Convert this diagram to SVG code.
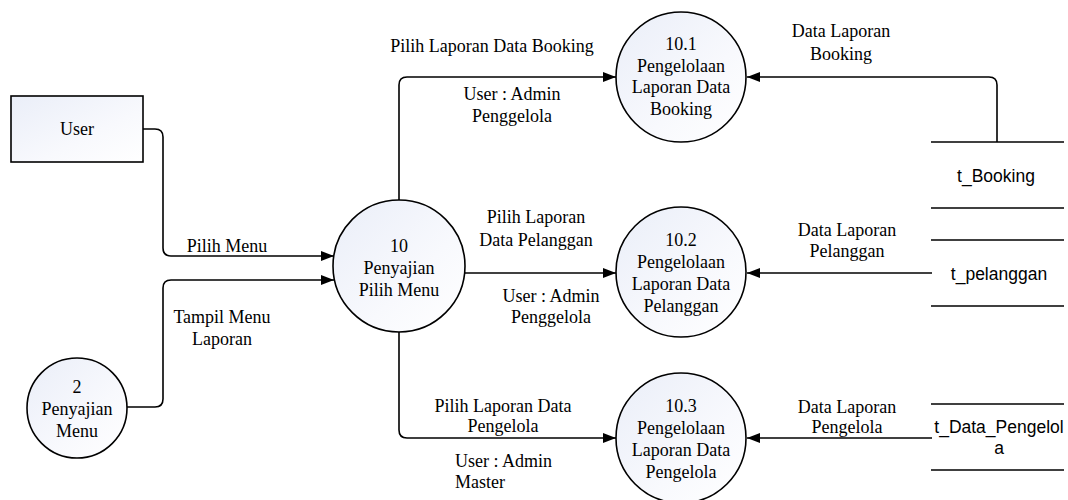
<svg xmlns="http://www.w3.org/2000/svg" width="1068" height="500" viewBox="0 0 1068 500">
<style>
.n{stroke:#000;stroke-width:1.6;fill:url(#g)}
.t{font-family:"Liberation Serif","Times New Roman",serif;font-size:18px;fill:#000;text-anchor:middle}
.s{font-family:"Liberation Sans",Arial,sans-serif;font-size:17.5px;fill:#000;text-anchor:middle}
.c{fill:none;stroke:#000;stroke-width:1.6}
.ds{stroke:#000;stroke-width:1.6}
</style>
<defs>
<linearGradient id="g" x1="0" y1="0" x2="1" y2="1">
<stop offset="0" stop-color="#eaeef8"/>
<stop offset="0.6" stop-color="#f8f9fd"/>
<stop offset="1" stop-color="#ffffff"/>
</linearGradient>
<marker id="a" markerUnits="userSpaceOnUse" markerWidth="13" markerHeight="10" refX="13" refY="5" orient="auto">
<path d="M0,0 L13,5 L0,10 z" fill="#000"/>
</marker>
</defs>
<rect width="1068" height="500" fill="#fff"/>

<g id="connectors">
<path class="c" marker-end="url(#a)" d="M143,129 H155 Q163,129 163,137 V248 Q163,256 171,256 H334"/>
<path class="c" marker-end="url(#a)" d="M127,407 H155 Q163,407 163,399 V288 Q163,280 171,280 H334"/>
<path class="c" marker-end="url(#a)" d="M399,200 V85 Q399,77 407,77 H616"/>
<path class="c" marker-end="url(#a)" d="M465,273 H616"/>
<path class="c" marker-end="url(#a)" d="M399,332 V430 Q399,438 407,438 H616"/>
<path class="c" marker-end="url(#a)" d="M997,142 V85 Q997,77 989,77 H747"/>
<path class="c" marker-end="url(#a)" d="M932,273 H747"/>
<path class="c" marker-end="url(#a)" d="M932,438 H747"/>
<text class="t" x="227" y="252">Pilih Menu</text>
<text class="t" x="222" y="323">Tampil Menu<tspan x="222" y="345">Laporan</tspan></text>
<text class="t" x="492" y="52">Pilih Laporan Data Booking</text>
<text class="t" x="512" y="100">User : Admin<tspan x="512" y="122">Penggelola</tspan></text>
<text class="t" x="536" y="223">Pilih Laporan<tspan x="536" y="246">Data Pelanggan</tspan></text>
<text class="t" x="551" y="302">User : Admin<tspan x="551" y="323">Penggelola</tspan></text>
<text class="t" x="503" y="412">Pilih Laporan Data<tspan x="503" y="432">Pengelola</tspan></text>
<text class="t" x="455" y="467" style="text-anchor:start">User : Admin<tspan x="455" y="488">Master</tspan></text>
<text class="t" x="841" y="37">Data Laporan<tspan x="841" y="60">Booking</tspan></text>
<text class="t" x="847" y="236">Data Laporan<tspan x="847" y="257">Pelanggan</tspan></text>
<text class="t" x="847" y="413">Data Laporan<tspan x="847" y="433">Pengelola</tspan></text>
</g>

<g id="user">
<rect class="n" x="11" y="96" width="132" height="66"/>
<text class="t" x="77" y="135">User</text>
</g>

<g id="p2">
<circle class="n" cx="77" cy="408" r="50"/>
<text class="t" x="77" y="393">2<tspan x="77" y="415">Penyajian</tspan><tspan x="77" y="437">Menu</tspan></text>
</g>

<g id="p10">
<circle class="n" cx="399" cy="266" r="66"/>
<text class="t" x="399" y="252">10<tspan x="399" y="274">Penyajian</tspan><tspan x="399" y="296">Pilih Menu</tspan></text>
</g>

<g id="p10_1">
<circle class="n" cx="681" cy="77" r="65"/>
<text class="t" x="681" y="50">10.1<tspan x="681" y="72">Pengelolaan</tspan><tspan x="681" y="93">Laporan Data</tspan><tspan x="681" y="115">Booking</tspan></text>
</g>

<g id="p10_2">
<circle class="n" cx="681" cy="272" r="65"/>
<text class="t" x="681" y="246">10.2<tspan x="681" y="268">Pengelolaan</tspan><tspan x="681" y="290">Laporan Data</tspan><tspan x="681" y="312">Pelanggan</tspan></text>
</g>

<g id="p10_3">
<circle class="n" cx="681" cy="438" r="65"/>
<text class="t" x="681" y="412">10.3<tspan x="681" y="434">Pengelolaan</tspan><tspan x="681" y="456">Laporan Data</tspan><tspan x="681" y="478">Pengelola</tspan></text>
</g>

<g id="t_booking">
<line class="ds" x1="931" y1="142" x2="1064" y2="142"/>
<line class="ds" x1="931" y1="208" x2="1064" y2="208"/>
<text class="s" x="996" y="182">t_Booking</text>
</g>

<g id="t_pelanggan">
<line class="ds" x1="931" y1="240" x2="1064" y2="240"/>
<line class="ds" x1="931" y1="306" x2="1064" y2="306"/>
<text class="s" x="999" y="280">t_pelanggan</text>
</g>

<g id="t_data_pengelola">
<line class="ds" x1="931" y1="404" x2="1064" y2="404"/>
<line class="ds" x1="931" y1="470" x2="1064" y2="470"/>
<text class="s" x="999" y="433">t_Data_Pengelol<tspan x="999" y="454">a</tspan></text>
</g>
</svg>
